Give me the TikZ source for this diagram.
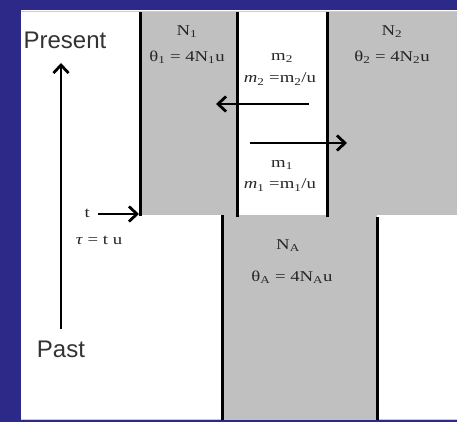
\documentclass[tikz,border=0pt]{standalone}
\usepackage{fontspec}
\setmainfont{Liberation Serif}[FakeStretch=1.25]
\newfontfamily\arialfont{Liberation Sans}
\usetikzlibrary{arrows.meta}
\definecolor{frameblue}{RGB}{44,41,136}
\definecolor{popgray}{RGB}{192,192,192}
\begin{document}
\begin{tikzpicture}[x=1pt,y=-1pt,
  wall/.style={line width=3pt,black},
  flow/.style={line width=2.8pt,-{Straight Barb[length=8pt,width=15pt,line width=2.8pt]}},
  lab/.style={font=\fontsize{15}{17}\selectfont, text=black!85, inner sep=0pt},
  big/.style={font=\arialfont\fontsize{24}{28}\selectfont, text=black!80, inner sep=0pt}]
\useasboundingbox (0,0) rectangle (457,422);
\fill[frameblue] (0,0) rectangle (457,422);
\fill[white] (21,10) rectangle (457,420);
\draw[black!20, line width=0.8pt] (21,11) -- (457,11);
\draw[black!20, line width=0.8pt] (21,419.5) -- (457,419.5);
% population areas
\fill[popgray] (140,12) rectangle (457,215);
\fill[white] (237,12) rectangle (327,215);
\fill[popgray] (222,215) rectangle (377,420);
% walls
\coordinate (w1t) at (140,12);  \coordinate (w1b) at (140,216);
\coordinate (w2t) at (237,12);  \coordinate (w2b) at (237,217);
\coordinate (w3t) at (327,12);  \coordinate (w3b) at (327,217);
\coordinate (w4t) at (222,215); \coordinate (w4b) at (222,420);
\coordinate (w5t) at (377,217); \coordinate (w5b) at (377,420);
\draw[wall] (w1t) -- (w1b);
\draw[wall] (w2t) -- (w2b);
\draw[wall] (w3t) -- (w3b);
\draw[wall] (w4t) -- (w4b);
\draw[wall] (w5t) -- (w5b);
% labels
\node[lab] (n1) at (187,32) {N\textsubscript{1}};
\node[lab] (th1) at (187,57) {θ\textsubscript{1} = 4N\textsubscript{1}u};
\node[lab] (n2) at (392,32) {N\textsubscript{2}};
\node[lab] (th2) at (392,57) {θ\textsubscript{2} = 4N\textsubscript{2}u};
\node[lab] (m2) at (282,58) {m\textsubscript{2}};
\node[lab] (mm2) at (280,79) {\textit{m}\textsubscript{2} =m\textsubscript{2}/u};
\node[lab] (m1) at (282,165) {m\textsubscript{1}};
\node[lab] (mm1) at (280,185) {\textit{m}\textsubscript{1} =m\textsubscript{1}/u};
\node[lab] (na) at (288,246) {N\textsubscript{A}};
\node[lab] (tha) at (292,277) {θ\textsubscript{A} = 4N\textsubscript{A}u};
\node[lab, anchor=east] (t) at (90,213) {t};
\node[lab] (tau) at (99,240) {\textit{τ} = t u};
\node[big] (present) at (65,40) {Present};
\node[big] (past) at (61,349) {Past};
% arrows
\coordinate (a2s) at (309,104); \coordinate (a2e) at (216,104);
\coordinate (a1s) at (250,143); \coordinate (a1e) at (347,143);
\coordinate (tb) at (61,329);   \coordinate (tt) at (61,63);
\coordinate (ts) at (98,214);   \coordinate (te) at (139,214);
\draw[flow] (a2s) -- (a2e);
\draw[flow] (a1s) -- (a1e);
\draw[flow] (tb) -- (tt);
\draw[flow] (ts) -- (te);
\end{tikzpicture}
\end{document}
